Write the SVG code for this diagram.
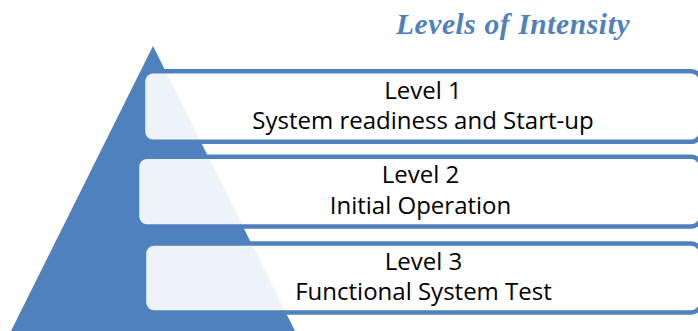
<svg xmlns="http://www.w3.org/2000/svg" width="698" height="331" viewBox="0 0 698 331">
  <style>
    .pyramid { fill: #4F81BD; }
    .box { fill: #FFFFFF; fill-opacity: 0.9; stroke: #4F81BD; stroke-width: 4.5; }
    .label { font-family: "Open Sans", "Liberation Sans", sans-serif; font-size: 24px; fill: #000000; text-anchor: middle; }
    .title { font-family: "Liberation Serif", serif; font-size: 29.5px; letter-spacing: 0.6px; font-weight: bold; font-style: italic; fill: #4F81BD; text-anchor: middle; }
  </style>
  <rect width="698" height="331" fill="#FFFFFF"/>

  <text class="title" x="513" y="34">Levels of Intensity</text>

  <!-- background pyramid -->
  <polygon class="pyramid" points="153,46 11,331 295,331"/>

  <g id="level1">
    <rect class="box" x="143" y="71.3" width="558" height="70.5" rx="10"/>
    <text class="label" x="423" y="99.3">Level 1</text>
    <text class="label" x="423" y="129.3">System readiness and Start-up</text>
  </g>

  <g id="level2">
    <rect class="box" x="137" y="156.7" width="564" height="69.8" rx="10"/>
    <text class="label" x="420.5" y="183.3">Level 2</text>
    <text class="label" x="420.5" y="214.3">Initial Operation</text>
  </g>

  <g id="level3">
    <rect class="box" x="144" y="243.5" width="557" height="69" rx="10"/>
    <text class="label" x="423.5" y="270">Level 3</text>
    <text class="label" x="423.5" y="300">Functional System Test</text>
  </g>
</svg>
